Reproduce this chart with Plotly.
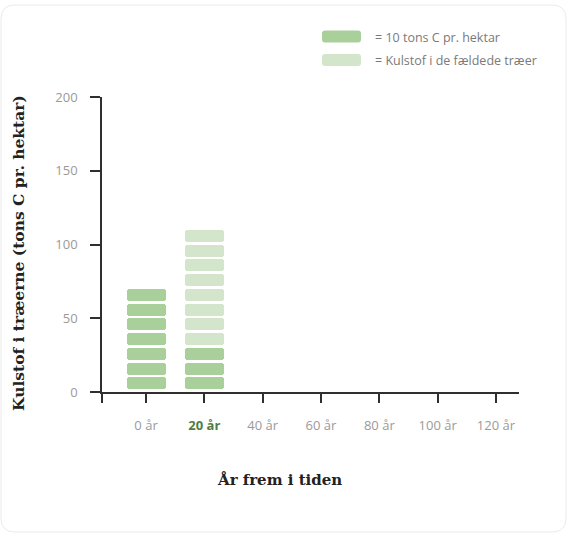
import plotly.graph_objects as go

# --- data -------------------------------------------------------------
years = [0, 20, 40, 60, 80, 100, 120]
year_labels = ["0 år", "20 år", "40 år", "60 år", "80 år", "100 år", "120 år"]
highlight_year = 20
stock = [70, 30, None, None, None, None, None]      # carbon left standing (tons C/ha)
felled = [0, 80, None, None, None, None, None]      # carbon in felled trees (tons C/ha)
block_size = 10                                      # one block = 10 tons C per hectare
y_ticks = [0, 50, 100, 150, 200]
legend_labels = ["= 10 tons C pr. hektar", "= Kulstof i de fældede træer"]

# --- style ------------------------------------------------------------
DARK = "#a9d09b"
LIGHT = "#d3e6cb"
AXIS = "#2f2f2f"
TICK_TXT = "#9a9a9a"
HILITE = "#4e7d47"
SANS = "Open Sans"
SERIF = "DejaVu Serif"

W, H = 568, 534
L, R, T, B = 102, 519, 97, 392
PW, PH = R - L, B - T
GAP = 1.7          # vertical gap between blocks, in data units
BAR_W = 13.4       # block width, in x units

x_lo = -15.1
x_hi = 127.9


def blocks(values, offsets):
    """Split each column into separate 10-ton blocks."""
    xs, bases, heights = [], [], []
    for yr, v, off in zip(years, values, offsets):
        if not v:
            continue
        n = int(round(v / block_size))
        start = (off or 0)
        for k in range(n):
            lo = start + k * block_size + GAP
            hi = start + (k + 1) * block_size
            xs.append(yr)
            bases.append(lo)
            heights.append(hi - lo)
    return xs, bases, heights


fig = go.Figure()

dx, db, dy = blocks(stock, [0] * len(years))
lx, lb, ly = blocks(felled, [s or 0 for s in stock])

for xs, bs, ys, col, name in [(dx, db, dy, DARK, "stående"), (lx, lb, ly, LIGHT, "fældet")]:
    fig.add_trace(go.Bar(
        x=xs, y=ys, base=bs, width=BAR_W, name=name,
        marker=dict(color=col, line=dict(width=0), cornerradius=3),
        showlegend=False, hoverinfo="skip",
    ))

tick_text = []
for yr, lab in zip(years, year_labels):
    if yr == highlight_year:
        tick_text.append(f"<b><span style='color:{HILITE}'>{lab}</span></b>")
    else:
        tick_text.append(lab)


def px(x):
    return (x - L) / PW


def py(y):
    return (B - y) / PH


def rounded(x0, y0, x1, y1, r):
    """Rounded rectangle path in paper coordinates, given pixel corners."""
    rx, ry = r / PW, r / PH
    a, b, c, d = px(x0), py(y1), px(x1), py(y0)
    return (f"M{a+rx},{b} L{c-rx},{b} Q{c},{b} {c},{b+ry} "
            f"L{c},{d-ry} Q{c},{d} {c-rx},{d} L{a+rx},{d} Q{a},{d} {a},{d-ry} "
            f"L{a},{b+ry} Q{a},{b} {a+rx},{b} Z")


shapes = [
    # card outline
    dict(type="path", xref="paper", yref="paper", layer="below",
         path=rounded(1, 5, 566, 532, 14), line=dict(color="#ebebeb", width=1),
         fillcolor="rgba(0,0,0,0)"),
    # legend swatches
    dict(type="path", xref="paper", yref="paper",
         path=rounded(322, 30.5, 361, 42.5, 3), line=dict(width=0), fillcolor=DARK),
    dict(type="path", xref="paper", yref="paper",
         path=rounded(322, 54, 361, 66, 3), line=dict(width=0), fillcolor=LIGHT),
]

annotations = [
    dict(xref="paper", yref="paper", x=px(373), y=py(37), xanchor="left", yanchor="middle",
         text=legend_labels[0], showarrow=False, font=dict(family=SANS, size=12.5, color="#7a7a7a")),
    dict(xref="paper", yref="paper", x=px(373), y=py(60.5), xanchor="left", yanchor="middle",
         text=legend_labels[1], showarrow=False, font=dict(family=SANS, size=12.5, color="#7a7a7a")),
    dict(xref="paper", yref="paper", x=px(279), y=py(480), xanchor="center", yanchor="middle",
         text="<b>År frem i tiden</b>", showarrow=False, font=dict(family=SERIF, size=15, color="#222222")),
    dict(xref="paper", yref="paper", x=px(18), y=py(253), xanchor="center", yanchor="middle",
         text="<b>Kulstof i træerne (tons C pr. hektar)</b>", textangle=-90, showarrow=False,
         font=dict(family=SERIF, size=15.5, color="#222222")),
]

fig.update_layout(
    width=W, height=H,
    margin=dict(l=L, r=W - R, t=T, b=H - B, pad=0),
    paper_bgcolor="white", plot_bgcolor="white",
    barmode="overlay", bargap=0,
    shapes=shapes, annotations=annotations,
    xaxis=dict(
        range=[x_lo, x_hi], tickmode="array",
        tickvals=[x_lo + 0.01] + years, ticktext=[""] + tick_text,
        showgrid=False, zeroline=False, showline=True, linecolor=AXIS, linewidth=1.5,
        ticks="outside", ticklen=9, tickwidth=1.5, tickcolor=AXIS,
        tickfont=dict(family=SANS, size=13, color=TICK_TXT), ticklabelstandoff=12,
    ),
    yaxis=dict(
        range=[0, 200], tickmode="array", tickvals=y_ticks,
        showgrid=False, zeroline=False, showline=True, linecolor=AXIS, linewidth=1.5,
        ticks="outside", ticklen=10, tickwidth=1.5, tickcolor=AXIS,
        tickfont=dict(family=SANS, size=13, color=TICK_TXT), ticklabelstandoff=10,
    ),
)

fig.write_html("out.html")
